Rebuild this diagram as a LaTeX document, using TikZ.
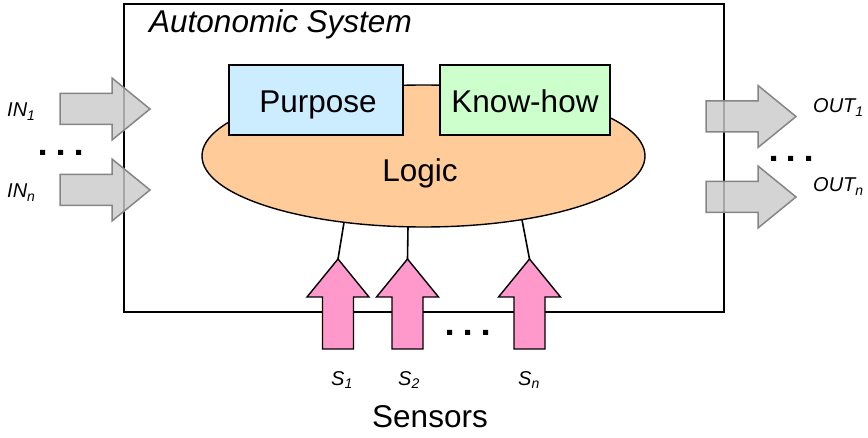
\documentclass[tikz,border=0pt]{standalone}
\usepackage{fontspec}
\setmainfont{Liberation Sans}
\usetikzlibrary{shapes.geometric}
\definecolor{logicfill}{HTML}{FFCC99}
\definecolor{purpfill}{HTML}{CCECFF}
\definecolor{knowfill}{HTML}{CCFFCC}
\definecolor{sensfill}{HTML}{FF99CC}
\definecolor{grayfill}{HTML}{CBCBCB}
\definecolor{grayedge}{HTML}{858585}
\tikzset{
  fatarrow/.pic={
    \path[pic actions] (0,-15.5) -- (52,-15.5) -- (52,-31) -- (90,0) -- (52,31) -- (52,15.5) -- (0,15.5) -- cycle;
    \coordinate (-tip) at (90,0);
  },
  ioarrow/.style={draw=grayedge, fill=grayfill, line width=1.5pt, fill opacity=0.82},
  sensarrow/.style={draw=black, fill=sensfill, line width=1.4pt, line join=miter},
  bigtext/.style={font=\fontsize{31.5}{36}\selectfont, inner sep=0pt},
  smalltext/.style={font=\fontsize{20}{24}\selectfont\itshape, inner sep=0pt},
  infobox/.style={draw=black, line width=1.4pt, minimum height=70pt, inner sep=0pt},
  dot/.style={fill=black},
  link/.style={draw=black, line width=1.6pt},
}
\begin{document}
\begin{tikzpicture}[x=1pt,y=-1pt]
\useasboundingbox (0,0) rectangle (868,438);
% main system box
\node[draw=black, line width=2.5pt, minimum width=600pt, minimum height=308pt, inner sep=0pt] (sys) at (424,158) {};
\node[bigtext, font=\fontsize{31.5}{36}\selectfont\itshape, anchor=base west] (title) at (149,33) {Autonomic System};
% logic ellipse
\node[ellipse, draw=black, line width=1.4pt, fill=logicfill, minimum width=443pt, minimum height=142pt, inner sep=0pt] (logic) at (423.5,156) {};
\node[bigtext, anchor=base] (logictext) at (420,182) {Logic};
% purpose / know-how
\node[infobox, fill=purpfill, minimum width=174pt] (purpose) at (316,100) {};
\node[bigtext, anchor=base] (purposetext) at (318,113) {Purpose};
\node[infobox, fill=knowfill, minimum width=170pt] (knowhow) at (525,100) {};
\node[bigtext, anchor=base] (knowhowtext) at (525,113) {Know-how};
% input arrows
\pic[ioarrow] (in1) at (60,109) {fatarrow};
\pic[ioarrow] (inn) at (60,190) {fatarrow};
\node[smalltext, anchor=base west] (in1lab) at (7,117) {IN\textsubscript{1}};
\node[smalltext, anchor=base west] (innlab) at (7,198) {IN\textsubscript{n}};
\fill[dot] (40,150) rectangle ++(5,5) (58,150) rectangle ++(5,5) (76,150) rectangle ++(5,5);
% output arrows
\pic[ioarrow] (out1) at (706,116.5) {fatarrow};
\pic[ioarrow] (outn) at (706,197) {fatarrow};
\node[smalltext, anchor=base west] (out1lab) at (813,113) {OUT\textsubscript{1}};
\node[smalltext, anchor=base west] (outnlab) at (813,192) {OUT\textsubscript{n}};
\fill[dot] (771,156) rectangle ++(5,5) (788,156) rectangle ++(5,5) (806,156) rectangle ++(5,5);
% sensor arrows
\pic[sensarrow, rotate=90] (s1) at (338,349) {fatarrow};
\pic[sensarrow, rotate=90] (s2) at (407.5,349) {fatarrow};
\pic[sensarrow, rotate=90] (sn) at (529.5,349) {fatarrow};
\coordinate (e1) at (344,222.5);
\coordinate (e2) at (408,226.8);
\coordinate (en) at (522,219.8);
\draw[link] (s1-tip) -- (e1);
\draw[link] (s2-tip) -- (e2);
\draw[link] (sn-tip) -- (en);
\fill[dot] (447,330) rectangle ++(5,5) (465,330) rectangle ++(5,5) (483,330) rectangle ++(5,5);
\node[smalltext, anchor=base west] (s1lab) at (331,385) {S\textsubscript{1}};
\node[smalltext, anchor=base west] (s2lab) at (398,385) {S\textsubscript{2}};
\node[smalltext, anchor=base west] (snlab) at (518,385) {S\textsubscript{n}};
\node[bigtext, anchor=base] (sensors) at (430,428) {Sensors};
\end{tikzpicture}
\end{document}
